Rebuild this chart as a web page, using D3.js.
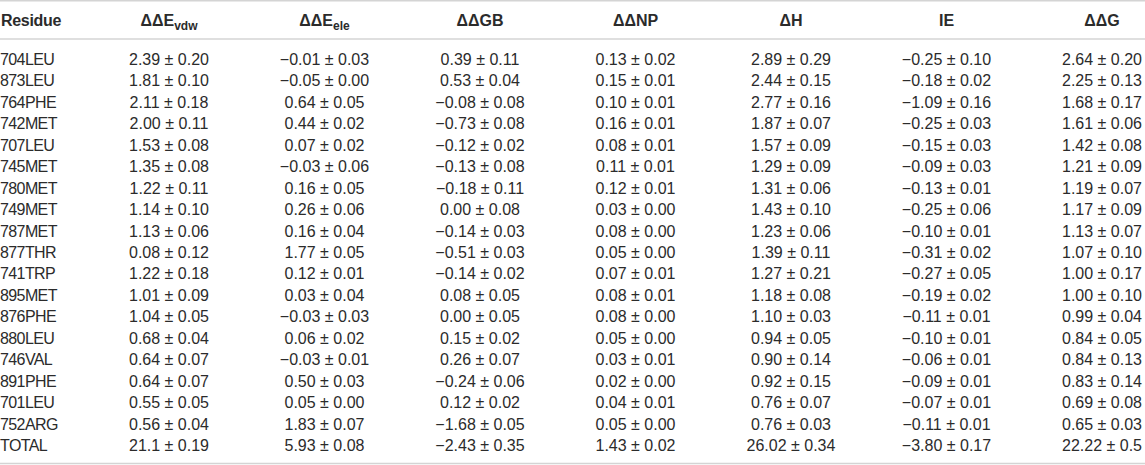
<!DOCTYPE html>
<html>
<head>
<meta charset="utf-8">
<script src="https://cdn.jsdelivr.net/npm/d3@7"></script>
<style>
  html, body { margin: 0; padding: 0; background: #fff; }
  svg text { font-family: "Liberation Sans", Arial, Helvetica, sans-serif; fill: #2b2b2b; }
</style>
</head>
<body>
<div id="container"></div>
<script>
var svgWidth = 1145;
var svgHeight = 465;

// table data
var residues = ["704LEU", "873LEU", "764PHE", "742MET", "707LEU", "745MET", "780MET", "749MET", "787MET",
    "877THR", "741TRP", "895MET", "876PHE", "880LEU", "746VAL", "891PHE", "701LEU", "752ARG", "TOTAL"];

var evdw = ["2.39 0.20", "1.81 0.10", "2.11 0.18", "2.00 0.11", "1.53 0.08", "1.35 0.08", "1.22 0.11", "1.14 0.10", "1.13 0.06",
    "0.08 0.12", "1.22 0.18", "1.01 0.09", "1.04 0.05", "0.68 0.04", "0.64 0.07", "0.64 0.07", "0.55 0.05", "0.56 0.04", "21.1 0.19"];
var eele = ["-0.01 0.03", "-0.05 0.00", "0.64 0.05", "0.44 0.02", "0.07 0.02", "-0.03 0.06", "0.16 0.05", "0.26 0.06", "0.16 0.04",
    "1.77 0.05", "0.12 0.01", "0.03 0.04", "-0.03 0.03", "0.06 0.02", "-0.03 0.01", "0.50 0.03", "0.05 0.00", "1.83 0.07", "5.93 0.08"];
var gb = ["0.39 0.11", "0.53 0.04", "-0.08 0.08", "-0.73 0.08", "-0.12 0.02", "-0.13 0.08", "-0.18 0.11", "0.00 0.08", "-0.14 0.03",
    "-0.51 0.03", "-0.14 0.02", "0.08 0.05", "0.00 0.05", "0.15 0.02", "0.26 0.07", "-0.24 0.06", "0.12 0.02", "-1.68 0.05", "-2.43 0.35"];
var np = ["0.13 0.02", "0.15 0.01", "0.10 0.01", "0.16 0.01", "0.08 0.01", "0.11 0.01", "0.12 0.01", "0.03 0.00", "0.08 0.00",
    "0.05 0.00", "0.07 0.01", "0.08 0.01", "0.08 0.00", "0.05 0.00", "0.03 0.01", "0.02 0.00", "0.04 0.01", "0.05 0.00", "1.43 0.02"];
var dh = ["2.89 0.29", "2.44 0.15", "2.77 0.16", "1.87 0.07", "1.57 0.09", "1.29 0.09", "1.31 0.06", "1.43 0.10", "1.23 0.06",
    "1.39 0.11", "1.27 0.21", "1.18 0.08", "1.10 0.03", "0.94 0.05", "0.90 0.14", "0.92 0.15", "0.76 0.07", "0.76 0.03", "26.02 0.34"];
var ie = ["-0.25 0.10", "-0.18 0.02", "-1.09 0.16", "-0.25 0.03", "-0.15 0.03", "-0.09 0.03", "-0.13 0.01", "-0.25 0.06", "-0.10 0.01",
    "-0.31 0.02", "-0.27 0.05", "-0.19 0.02", "-0.11 0.01", "-0.10 0.01", "-0.06 0.01", "-0.09 0.01", "-0.07 0.01", "-0.11 0.01", "-3.80 0.17"];
var dg = ["2.64 0.20", "2.25 0.13", "1.68 0.17", "1.61 0.06", "1.42 0.08", "1.21 0.09", "1.19 0.07", "1.17 0.09", "1.13 0.07",
    "1.07 0.10", "1.00 0.17", "1.00 0.10", "0.99 0.04", "0.84 0.05", "0.84 0.13", "0.83 0.14", "0.69 0.08", "0.65 0.03", "22.22 0.5"];

var columns = [
    {key: "evdw", head: "\u0394\u0394E", sub: "vdw", values: evdw},
    {key: "eele", head: "\u0394\u0394E", sub: "ele", values: eele},
    {key: "gb", head: "\u0394\u0394GB", values: gb},
    {key: "np", head: "\u0394\u0394NP", values: np},
    {key: "dh", head: "\u0394H", values: dh},
    {key: "ie", head: "IE", values: ie},
    {key: "dg", head: "\u0394\u0394G", values: dg}
];

function cellText(s) {
    var p = s.split(" ");
    return p[0].replace("-", "\u2212") + " \u00b1 " + p[1];
}

var svg = d3.select("#container").append("svg")
    .attr("width", svgWidth)
    .attr("height", svgHeight);

var x = d3.scalePoint()
    .domain(columns.map(function (c) { return c.key; }))
    .range([169, 1102]);

var y = d3.scalePoint()
    .domain(residues)
    .range([65, 451]);

var headerY = 26;
var fontSize = 16;

// rules
var rules = [0.75, 39, 463.5];
svg.selectAll("line.rule").data(rules)
    .enter().append("line")
    .attr("class", "rule")
    .attr("x1", 0).attr("x2", svgWidth)
    .attr("y1", function (d) { return d; })
    .attr("y2", function (d) { return d; })
    .style("stroke", "#d4d4d4")
    .style("stroke-width", 1.5);

// header
svg.append("text")
    .attr("x", 1).attr("y", headerY)
    .style("font-size", fontSize + "px")
    .style("font-weight", "bold")
    .style("letter-spacing", "-0.3px")
    .text("Residue");

var head = svg.selectAll("text.head").data(columns)
    .enter().append("text")
    .attr("class", "head")
    .attr("x", function (c) { return x(c.key); })
    .attr("y", headerY)
    .attr("text-anchor", "middle")
    .style("font-size", fontSize + "px")
    .style("font-weight", "bold");

head.append("tspan").text(function (c) { return c.head; });
head.filter(function (c) { return c.sub; })
    .append("tspan")
    .attr("dy", 4)
    .style("font-size", "12px")
    .text(function (c) { return c.sub; });

// residue names
svg.selectAll("text.res").data(residues)
    .enter().append("text")
    .attr("class", "res")
    .attr("x", 0)
    .attr("y", function (d) { return y(d); })
    .style("font-size", fontSize + "px")
    .style("letter-spacing", "-0.6px")
    .text(function (d) { return d; });

// value cells
var colGroup = svg.selectAll("g.col").data(columns)
    .enter().append("g")
    .attr("class", "col");

colGroup.selectAll("text")
    .data(function (c) {
        return c.values.map(function (v, i) { return {key: c.key, row: residues[i], v: v}; });
    })
    .enter().append("text")
    .attr("x", function (d) { return x(d.key); })
    .attr("y", function (d) { return y(d.row); })
    .attr("text-anchor", "middle")
    .style("font-size", fontSize + "px")
    .text(function (d) { return cellText(d.v); });
</script>
</body>
</html>
